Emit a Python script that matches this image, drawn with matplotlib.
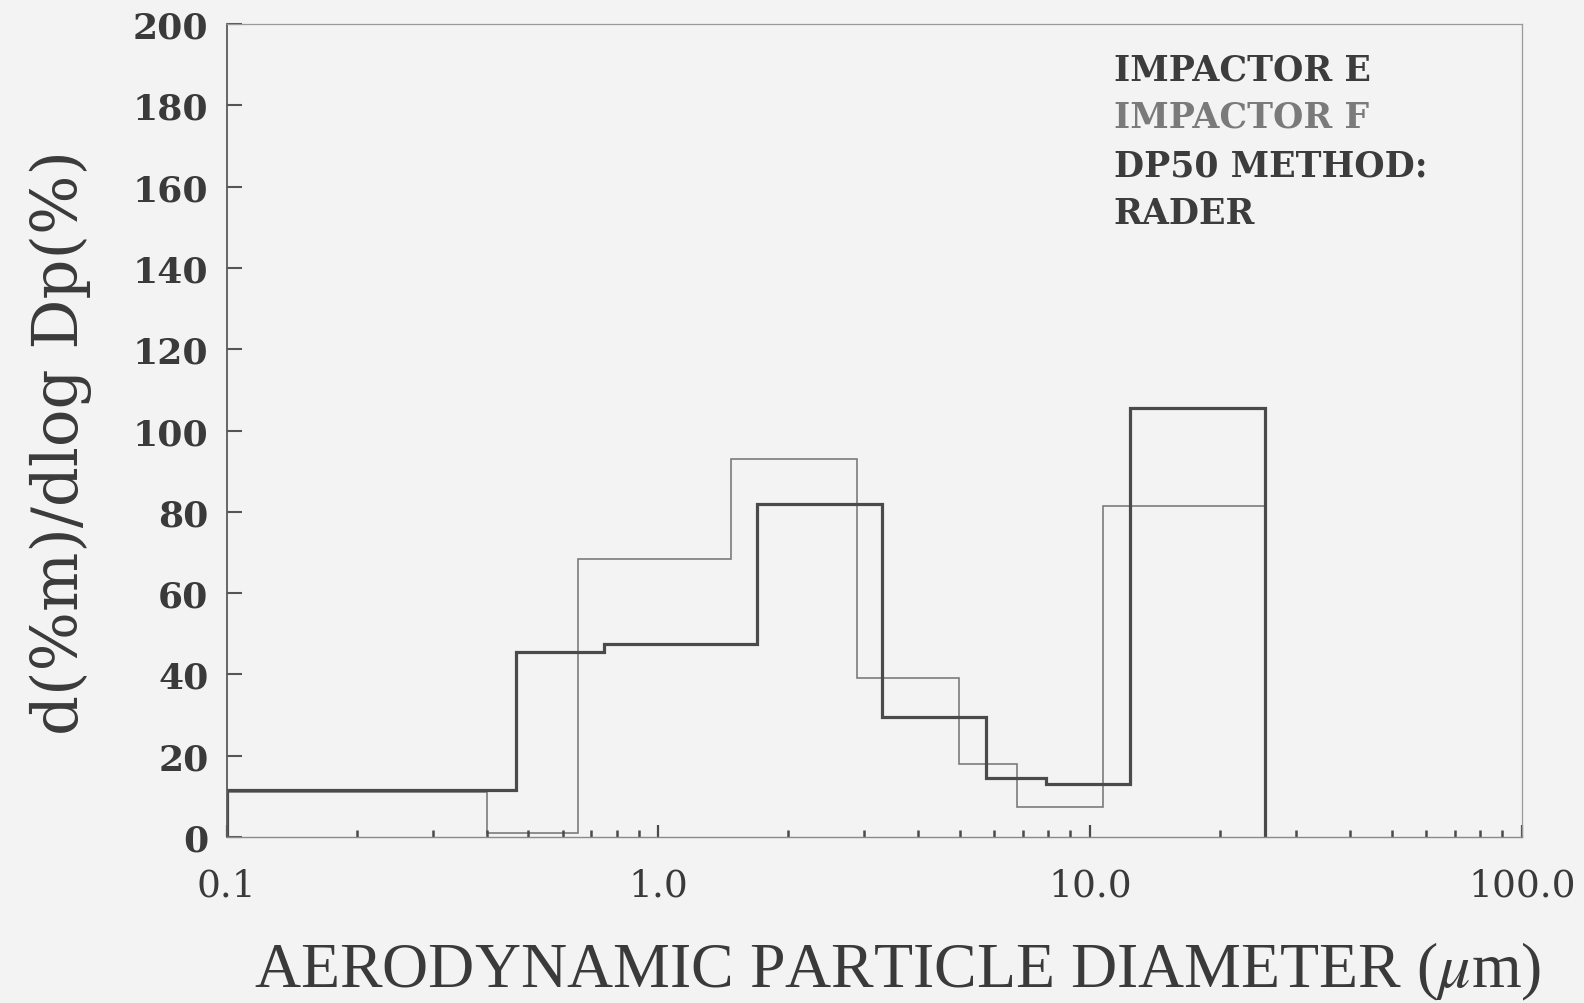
import numpy as np
import matplotlib
matplotlib.use("Agg")
import matplotlib.pyplot as plt
from matplotlib.ticker import LogLocator, FixedLocator, NullFormatter

# ---- data ----
edges_E = [0.1, 0.467, 0.75, 1.69, 3.30, 5.75, 7.92, 12.4, 25.4]
values_E = [11.5, 45.5, 47.5, 82.0, 29.5, 14.5, 13.0, 105.5]

edges_F = [0.1, 0.40, 0.65, 1.47, 2.88, 4.97, 6.76, 10.7, 25.4]
values_F = [11.0, 1.0, 68.5, 93.0, 39.0, 18.0, 7.5, 81.5]

xtick_vals = [0.1, 1.0, 10.0, 100.0]
xtick_labels = ["0.1", "1.0", "10.0", "100.0"]
ytick_vals = list(range(0, 201, 20))

legend_lines = ["IMPACTOR E", "IMPACTOR F", "DP50 METHOD:", "RADER"]
legend_colors = ["#3c3c3c", "#7a7a7a", "#3c3c3c", "#3c3c3c"]

bg = "#f3f3f3"
plt.rcParams["mathtext.fontset"] = "stix"

fig = plt.figure(figsize=(15.84, 10.04), dpi=100, facecolor=bg)
ax = fig.add_axes([0.1431, 0.1653, 0.8176, 0.8098], facecolor=bg)

ax.stairs(values_F, edges_F, color="#7c7c7c", linewidth=1.2, baseline=0)
ax.stairs(values_E, edges_E, color="#4a4a4a", linewidth=2.3, baseline=0)

ax.set_xscale("log")
ax.set_xlim(0.1, 100)
ax.set_ylim(0, 200)

ax.xaxis.set_major_locator(FixedLocator(xtick_vals))
ax.set_xticklabels(xtick_labels)
ax.xaxis.set_minor_locator(LogLocator(base=10, subs=np.arange(2, 10)))
ax.xaxis.set_minor_formatter(NullFormatter())
ax.set_yticks(ytick_vals)

for s in ["top", "right"]:
    ax.spines[s].set_color("#9a9a9a")
    ax.spines[s].set_linewidth(0.9)
ax.spines["bottom"].set_color("#8a8a8a")
ax.spines["bottom"].set_linewidth(1.0)
ax.spines["left"].set_color("#5a5a5a")
ax.spines["left"].set_linewidth(1.3)

ax.tick_params(axis="x", which="major", direction="in", length=9, width=1.6,
               color="#4a4a4a", pad=22, labelsize=27, labelcolor="#3a3a3a")
ax.tick_params(axis="x", which="minor", direction="in", length=5, width=1.8,
               color="#4a4a4a")
ax.tick_params(axis="y", which="major", direction="in", length=11, width=1.5,
               color="#555555", pad=13, labelsize=26, labelcolor="#3a3a3a")
for lab in ax.get_xticklabels():
    lab.set_family("DejaVu Serif")
for lab in ax.get_yticklabels():
    lab.set_family("DejaVu Serif")
    lab.set_fontweight("bold")

ax.set_ylabel("d(%m)/dlog Dp(%)", family="DejaVu Serif", fontsize=45,
              color="#3a3a3a")
ax.yaxis.set_label_coords(-0.104, 0.487)

ax.set_xlabel(r"AERODYNAMIC PARTICLE DIAMETER (${\mu}$m)",
              family="Liberation Serif", fontsize=46, color="#3a3a3a")
ax.xaxis.set_label_coords(0.518, -0.126)

ys = [0.944, 0.886, 0.826, 0.767]
for txt, col, yy in zip(legend_lines, legend_colors, ys):
    ax.text(0.685, yy, txt, transform=ax.transAxes, family="DejaVu Serif",
            fontweight="bold", fontsize=25, color=col, va="center", ha="left")

fig.savefig("out.png", dpi=100, facecolor=bg)
